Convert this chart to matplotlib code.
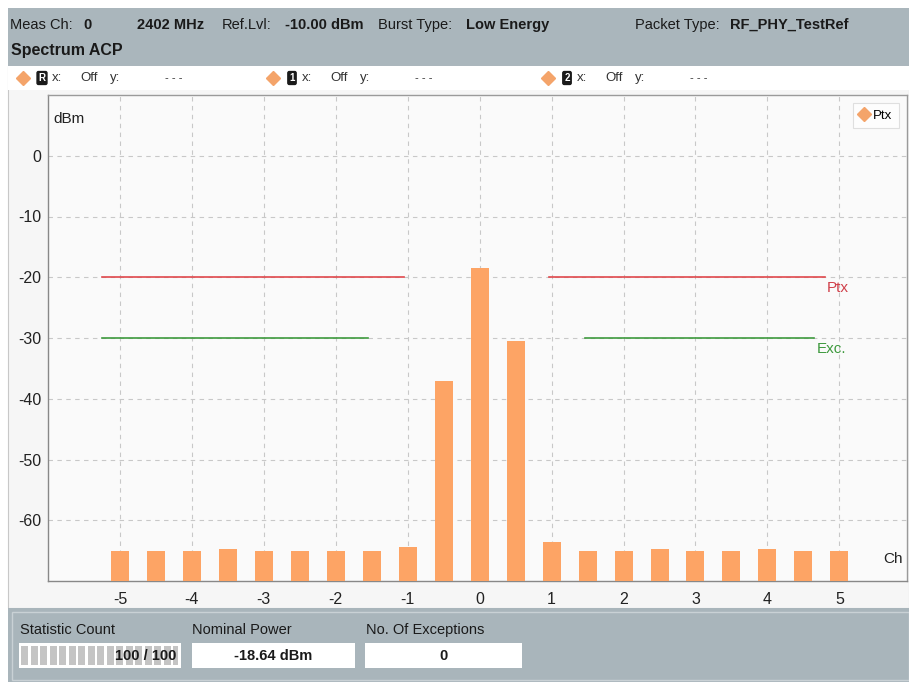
import matplotlib
matplotlib.use("Agg")
import matplotlib.pyplot as plt
from matplotlib.patches import Rectangle
from matplotlib.lines import Line2D

plt.rcParams['font.family'] = ['Liberation Sans', 'DejaVu Sans']

# ---------------- data ----------------
channels = [-5, -4.5, -4, -3.5, -3, -2.5, -2, -1.5, -1, -0.5, 0, 0.5,
            1, 1.5, 2, 2.5, 3, 3.5, 4, 4.5, 5]
power_dbm = [-65.0, -65.0, -65.0, -64.7, -65.0, -65.0, -65.0, -65.0, -64.4,
             -37.1, -18.4, -30.5, -63.5, -65.0, -65.0, -64.7, -65.0, -65.0,
             -64.7, -65.0, -65.0]
xticks = [-5, -4, -3, -2, -1, 0, 1, 2, 3, 4, 5]
yticks = [0, -10, -20, -30, -40, -50, -60]
ptx_limit = -20
ptx_segments = [(-5.25, -1.05), (0.96, 4.8)]
exc_limit = -30
exc_segments = [(-5.25, -1.55), (1.46, 4.65)]

W, H = 909, 682
fig = plt.figure(figsize=(W / 100, H / 100), dpi=100)
fig.patch.set_facecolor('white')


def fx(x):
    return x / W


def fy(y):
    return 1 - y / H


def rect(x0, y0, x1, y1, fc, ec='none', lw=0, z=0):
    fig.add_artist(Rectangle((fx(x0), fy(y1)), fx(x1) - fx(x0), fy(y0) - fy(y1),
                             transform=fig.transFigure, facecolor=fc,
                             edgecolor=ec, linewidth=lw, zorder=z))


def txt(x, y, s, size=10.5, weight='normal', ha='left', color='#1a1a1a', **kw):
    fig.text(fx(x), fy(y), s, fontsize=size, fontweight=weight, ha=ha,
             va='center', color=color, **kw)


# backgrounds
rect(8, 8, 909, 66, '#AAB6BC')              # header
rect(8, 66, 909, 608, '#F6F6F6', ec='#C8C8C8', lw=0.8)   # main area
rect(8, 608, 909, 682, '#A9B5BB')           # bottom panel
rect(12, 612, 909, 680, 'none', ec='#C9D1D5', lw=1.0, z=1)

# header text
txt(10, 25, 'Meas Ch:')
txt(83, 25, '0', weight='bold')
txt(137, 25, '2402 MHz', weight='bold')
txt(222, 25, 'Ref.Lvl:')
txt(285, 25, '-10.00 dBm', weight='bold')
txt(378, 25, 'Burst Type:')
txt(466, 25, 'Low Energy', weight='bold')
txt(635, 25, 'Packet Type:')
txt(730, 25, 'RF_PHY_TestRef', weight='bold')
txt(11, 51, 'Spectrum ACP', size=11.5, weight='bold')

# marker row
rect(8, 66, 909, 90, '#FFFFFF')
for (xd, lab) in [(23, 'R'), (273, '1'), (548, '2')]:
    fig.add_artist(Line2D([fx(xd)], [fy(78)], marker='D', markersize=7,
                          color='#F4A46A', transform=fig.transFigure))
    fig.text(fx(xd + 19), fy(78), lab, fontsize=7, fontweight='bold', color='white',
             ha='center', va='center',
             bbox=dict(boxstyle='round,pad=0.15', fc='#1a1a1a', ec='#1a1a1a'))
    txt(xd + 29, 78, 'x:', size=9.5, color='#333333')
    txt(xd + 57, 78, 'Off', size=9.5, color='#333333')
    txt(xd + 87, 78, 'y:', size=9.5, color='#333333')
    txt(xd + 142, 78, '- - -', size=8, color='#333333')

# ---------------- plot ----------------
ax = fig.add_axes([fx(48), fy(581), fx(907) - fx(48), fy(95) - fy(581)])
ax.set_facecolor('#FAFAFA')
ax.set_xlim(-6, 5.94)
ax.set_ylim(-70, 10)
bottom = -70
ax.bar(channels, [p - bottom for p in power_dbm], bottom=bottom, width=0.25,
       color='#FDA465', zorder=3)

for a, b in ptx_segments:
    ax.plot([a, b], [ptx_limit, ptx_limit], color='#E0484C', lw=1.2, zorder=4)
for a, b in exc_segments:
    ax.plot([a, b], [exc_limit, exc_limit], color='#3E9A3E', lw=1.2, zorder=4)
ax.text(4.83, ptx_limit - 0.6, 'Ptx', color='#D0404A', fontsize=11, va='top', ha='left')
ax.text(4.68, exc_limit - 0.6, 'Exc.', color='#3E9A3E', fontsize=11, va='top', ha='left')

ax.set_xticks(xticks)
ax.set_xticklabels([str(v) for v in xticks])
ax.set_yticks(yticks)
ax.set_yticklabels([str(v) for v in yticks])
ax.tick_params(length=0, labelsize=11.5, colors='#222222')
ax.tick_params(axis='x', pad=8)
ax.tick_params(axis='y', pad=5)
ax.grid(True, color='#C8C8C8', lw=0.8, ls=(0, (4, 4)), zorder=1)
for s in ax.spines.values():
    s.set_color('#9A9A9A')
    s.set_linewidth(1.0)
ax.spines['left'].set_color('#888888')
ax.spines['bottom'].set_color('#888888')

ax.text(0.006, 0.965, 'dBm', transform=ax.transAxes, fontsize=11, va='top',
        ha='left', color='#222222')
ax.text(0.995, 0.03, 'Ch', transform=ax.transAxes, fontsize=11, va='bottom',
        ha='right', color='#222222')

leg = ax.legend(handles=[Line2D([], [], marker='D', ls='none', color='#F4A46A',
                                markersize=7, label='Ptx')],
                loc='upper right', fontsize=9.5, frameon=True, handlelength=0.7,
                handletextpad=0.35, borderpad=0.5, borderaxespad=0.6, fancybox=False)
leg.get_frame().set_edgecolor('#D8D8D8')
leg.get_frame().set_facecolor('#FFFFFF')
leg.get_frame().set_linewidth(0.8)

# ---------------- bottom panel ----------------
txt(20, 630, 'Statistic Count')
txt(192, 630, 'Nominal Power')
txt(366, 630, 'No. Of Exceptions')
rect(19, 643, 181, 668, '#FFFFFF', z=2)
seg_x = 21
while seg_x < 178:
    rect(seg_x, 646, min(seg_x + 7, 178), 665, '#C4C4C4', z=3)
    seg_x += 9.5
txt(176, 656, '100 / 100', weight='bold', ha='right', zorder=5)
rect(192, 643, 355, 668, '#FFFFFF', z=2)
txt(273, 656, '-18.64 dBm', weight='bold', ha='center', zorder=5)
rect(365, 643, 522, 668, '#FFFFFF', z=2)
txt(443, 656, '0', weight='bold', ha='center', zorder=5)

fig.savefig('out.png', dpi=100, facecolor=fig.get_facecolor())
